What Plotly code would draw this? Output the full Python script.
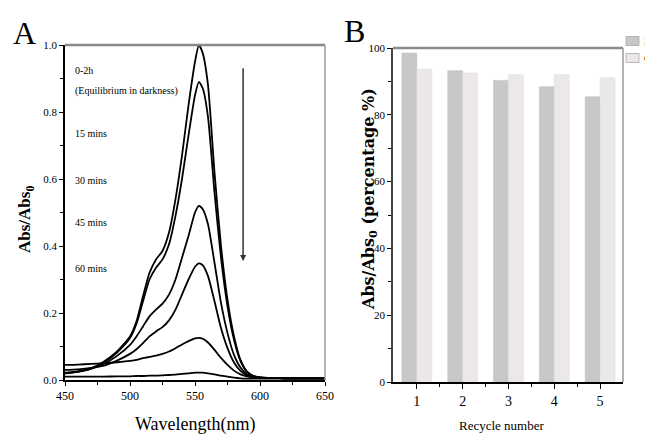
import plotly.graph_objects as go

# browser page adds an 8 px body margin; figure is sized to fit the 653x442 window
W, H = 645, 434
OFF = 8

# ---------------- data: panel A (UV-vis spectra) ----------------
wavelength = [450, 460, 470, 480, 490, 500, 505, 510, 515, 520, 525, 530, 535, 540, 545,
              550, 553, 556, 560, 565, 570, 575, 580, 585, 590, 595, 600, 610, 620, 630, 640, 650]
abs_0h = [0.020, 0.025, 0.035, 0.055, 0.085, 0.130, 0.175, 0.250, 0.320, 0.360, 0.385, 0.440, 0.540, 0.670, 0.820,
          0.950, 1.000, 0.975, 0.880, 0.620, 0.400, 0.240, 0.130, 0.060, 0.025, 0.012, 0.008, 0.006, 0.005, 0.005, 0.005, 0.005]
abs_2h = [0.020, 0.024, 0.033, 0.052, 0.082, 0.125, 0.168, 0.235, 0.300, 0.335, 0.360, 0.405, 0.490, 0.600, 0.730,
          0.850, 0.890, 0.870, 0.785, 0.560, 0.365, 0.220, 0.120, 0.056, 0.024, 0.012, 0.008, 0.006, 0.005, 0.005, 0.005, 0.005]
abs_15 = [0.022, 0.026, 0.034, 0.048, 0.072, 0.105, 0.130, 0.160, 0.190, 0.210, 0.228, 0.255, 0.300, 0.365, 0.430,
          0.500, 0.520, 0.510, 0.465, 0.350, 0.230, 0.140, 0.075, 0.037, 0.017, 0.010, 0.007, 0.006, 0.005, 0.005, 0.005, 0.005]
abs_30 = [0.030, 0.032, 0.036, 0.043, 0.058, 0.078, 0.092, 0.110, 0.130, 0.145, 0.158, 0.178, 0.210, 0.255, 0.300,
          0.338, 0.348, 0.342, 0.310, 0.235, 0.155, 0.095, 0.052, 0.027, 0.014, 0.009, 0.007, 0.006, 0.005, 0.005, 0.005, 0.005]
abs_45 = [0.045, 0.046, 0.048, 0.050, 0.053, 0.057, 0.060, 0.065, 0.069, 0.073, 0.078, 0.085, 0.095, 0.106, 0.116,
          0.124, 0.126, 0.123, 0.112, 0.090, 0.066, 0.045, 0.028, 0.017, 0.011, 0.008, 0.007, 0.006, 0.005, 0.005, 0.005, 0.005]
abs_60 = [0.010, 0.010, 0.010, 0.010, 0.011, 0.011, 0.012, 0.012, 0.013, 0.013, 0.014, 0.015, 0.016, 0.018, 0.020,
          0.022, 0.022, 0.022, 0.020, 0.017, 0.013, 0.010, 0.007, 0.005, 0.004, 0.004, 0.004, 0.004, 0.004, 0.004, 0.004, 0.004]
spectra_names = ["0 h", "2 h", "15 mins", "30 mins", "45 mins", "60 mins"]
spectra = [abs_0h, abs_2h, abs_15, abs_30, abs_45, abs_60]

time_labels = ["0-2h", "(Equilibrium in darkness)", "15 mins", "30 mins", "45 mins", "60 mins"]
time_label_y = [0.925, 0.862, 0.735, 0.597, 0.469, 0.334]

# ---------------- data: panel B (recycle test) ----------------
recycle = [1, 2, 3, 4, 5]
series_b = [98.5, 93.2, 90.3, 88.4, 85.4]
series_c = [93.7, 92.5, 92.0, 92.0, 91.1]
legend_names = ["B", "C"]
bar_colors = ["#c8c8c8", "#ece8e8"]
bar_edges = ["#bdbdbd", "#dedada"]

SERIF = "Liberation Serif, Times New Roman, serif"


def px_x(p):
    return (p - OFF) / W


def px_y(p):
    return 1 - (p - OFF) / H


fig = go.Figure()

for name, vals in zip(spectra_names, spectra):
    fig.add_trace(go.Scatter(x=wavelength, y=vals, mode="lines", name=name,
                             line=dict(color="black", width=1.8, shape="spline", smoothing=0.6),
                             xaxis="x", yaxis="y", showlegend=False, hoverinfo="x+y"))

for name, vals, col, edge in zip(legend_names, [series_b, series_c], bar_colors, bar_edges):
    fig.add_trace(go.Bar(x=recycle, y=vals, name=name, xaxis="x2", yaxis="y2", showlegend=False,
                         marker=dict(color=col, line=dict(color=edge, width=0.5))))

tickfont = dict(family=SERIF, size=11, color="black")

fig.update_layout(
    width=W, height=H,
    template="none",
    paper_bgcolor="white", plot_bgcolor="white",
    margin=dict(l=0, r=0, t=0, b=0, autoexpand=False),
    barmode="group", bargap=0.35, bargroupgap=0.0,
    showlegend=False,
    xaxis=dict(domain=[px_x(65), px_x(325)], range=[450, 650], anchor="y",
               tickmode="array", tickvals=[450, 500, 550, 600, 650],
               ticks="outside", ticklen=4, tickwidth=1, tickcolor="black",
               minor=dict(tickvals=[475, 525, 575, 625], ticks="outside", ticklen=3, tickcolor="black"),
               showline=True, linecolor="black", linewidth=1.5, mirror=False,
               showgrid=False, zeroline=False, tickfont=dict(family=SERIF, size=12, color="black"),
               automargin=False),
    yaxis=dict(domain=[px_y(380), px_y(45)], range=[0, 1.0], anchor="x",
               tickmode="array", tickvals=[0, 0.2, 0.4, 0.6, 0.8, 1.0],
               ticktext=["0.0", "0.2", "0.4", "0.6", "0.8", "1.0"],
               ticks="outside", ticklen=4, tickwidth=1, tickcolor="black",
               minor=dict(tickvals=[0.1, 0.3, 0.5, 0.7, 0.9], ticks="outside", ticklen=3, tickcolor="black"),
               showline=True, linecolor="black", linewidth=1.5, mirror=False,
               showgrid=False, zeroline=False, tickfont=tickfont, automargin=False),
    xaxis2=dict(domain=[px_x(393), px_x(623)], range=[0.48, 5.5], anchor="y2",
                tickmode="array", tickvals=recycle,
                ticks="outside", ticklen=5, tickwidth=1, tickcolor="black",
                minor=dict(tickvals=[1.5, 2.5, 3.5, 4.5], ticks="outside", ticklen=3, tickcolor="black"),
                showline=True, linecolor="black", linewidth=1.5,
                showgrid=False, zeroline=False,
                tickfont=dict(family=SERIF, size=14, color="black"), automargin=False),
    yaxis2=dict(domain=[px_y(382), px_y(48)], range=[0, 100], anchor="x2",
                tickmode="array", tickvals=[0, 20, 40, 60, 80, 100],
                ticks="outside", ticklen=4, tickwidth=1, tickcolor="black",
                minor=dict(tickvals=[10, 30, 50, 70, 90], ticks="outside", ticklen=3, tickcolor="black"),
                showline=True, linecolor="#444", linewidth=1.5,
                showgrid=False, zeroline=False, tickfont=tickfont, automargin=False),
)

# frame lines (top / right), greyish as in the reference
shapes = [
    dict(type="line", xref="paper", yref="paper", x0=px_x(65), x1=px_x(325), y0=px_y(45), y1=px_y(45),
         line=dict(color="#8a8a8a", width=2.5)),
    dict(type="line", xref="paper", yref="paper", x0=px_x(325), x1=px_x(325), y0=px_y(380), y1=px_y(45),
         line=dict(color="#9a9a9a", width=1.5)),
    dict(type="line", xref="paper", yref="paper", x0=px_x(393), x1=px_x(623), y0=px_y(48), y1=px_y(48),
         line=dict(color="#8a8a8a", width=2.5)),
    dict(type="line", xref="paper", yref="paper", x0=px_x(623), x1=px_x(623), y0=px_y(382), y1=px_y(48),
         line=dict(color="#9a9a9a", width=1.5)),
]
# legend swatches (legend partly cropped at the right edge as in the reference)
legend_rows_y = [41, 58]
for col, edge, yc in zip(bar_colors, bar_edges, legend_rows_y):
    shapes.append(dict(type="rect", xref="paper", yref="paper",
                       x0=px_x(626), x1=px_x(639), y0=px_y(yc + 4.5), y1=px_y(yc - 4.5),
                       fillcolor=col, line=dict(color="#a8a8a8", width=0.8)))
fig.update_layout(shapes=shapes)

ann = []


def paper_text(text, x, y, size, angle=0, family=SERIF, xanchor="center"):
    return dict(text=text, x=px_x(x), y=px_y(y), xref="paper", yref="paper", showarrow=False,
                xanchor=xanchor, yanchor="middle", textangle=angle,
                font=dict(family=family, size=size, color="black"))


# panel letters
ann.append(paper_text("A", 24, 33, 32))
ann.append(paper_text("B", 354, 31, 32))
# axis titles
ann.append(paper_text("<b>Abs/Abs<sub>0</sub></b>", 26, 220, 17, angle=-90))
ann.append(paper_text("Wavelength(nm)", 195, 424, 18))
ann.append(paper_text("<b>Abs/Abs<sub>0</sub> (percentage %)</b>", 370, 199, 16, angle=-90,
                      family="DejaVu Serif, serif"))
ann.append(paper_text("Recycle number", 501, 425, 13))
# legend labels
for name, yc in zip(legend_names, legend_rows_y):
    ann.append(paper_text(name, 642, yc, 11, xanchor="left"))
# time labels inside panel A
for t, yv in zip(time_labels, time_label_y):
    ann.append(dict(text=t, x=456, y=yv, xref="x", yref="y", xanchor="left", yanchor="middle",
                    showarrow=False, font=dict(family=SERIF, size=10, color="black")))
# arrow indicating decrease
ann.append(dict(text="", x=587, y=0.355, xref="x", yref="y", ax=587, ay=0.935, axref="x", ayref="y",
                showarrow=True, arrowhead=2, arrowsize=0.8, arrowwidth=1.5, arrowcolor="#333"))
fig.update_layout(annotations=ann)

fig.write_html("out.html")
